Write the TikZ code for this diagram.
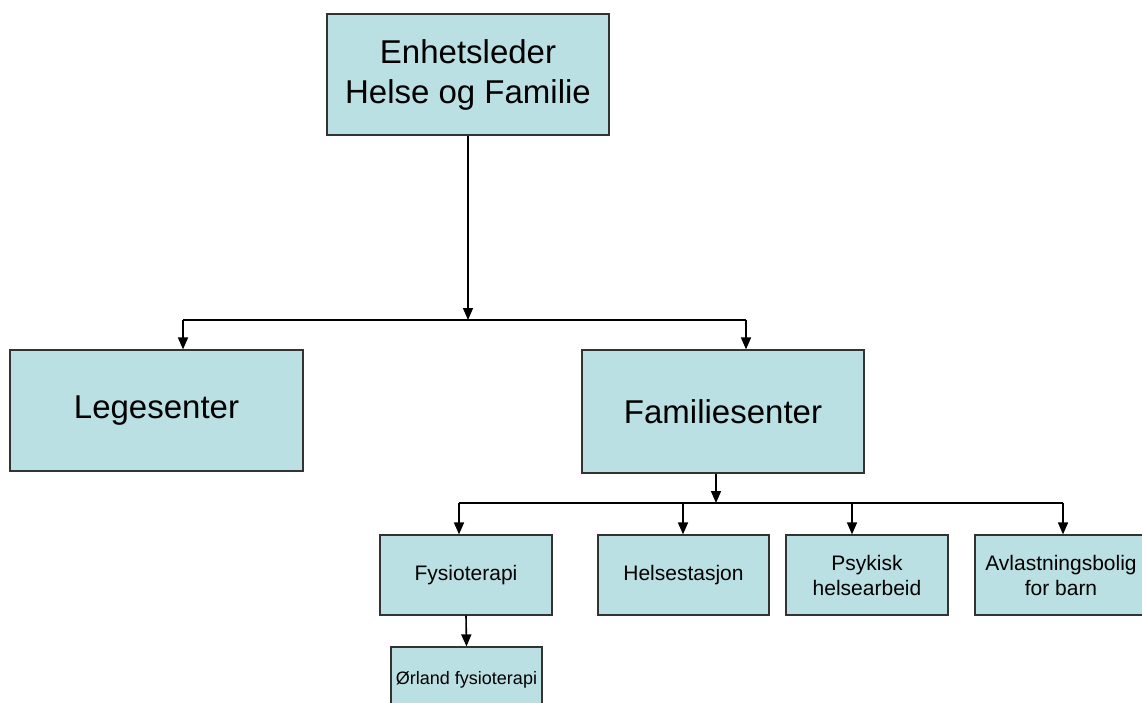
\documentclass[tikz,border=0pt]{standalone}
\usepackage{fontspec}
\setmainfont{Liberation Sans}
\usetikzlibrary{arrows.meta}
\definecolor{boxfill}{HTML}{BBE0E3}
\begin{document}
\begin{tikzpicture}[x=1pt,y=-1pt]
	    \tikzset{>={Triangle[length=12pt,width=10pt]}}
	    \tikzset{unit/.style={draw=black!80,fill=boxfill,line width=1.2pt,inner sep=0pt,align=center,font=\fontsize{33}{40}\selectfont}}
	    \tikzset{subunit/.style={unit,font=\fontsize{21}{25}\selectfont}}
	    \tikzset{link/.style={line width=1.6pt}}
	    \useasboundingbox (0,0) rectangle (1142,702);
	    \node[unit,minimum width=282pt,minimum height=121pt] (leder) at (468,74.5) {Enhetsleder\\Helse og Familie};
	    \node[unit,minimum width=293pt,minimum height=121pt] (lege) at (156.5,410.5) {Legesenter};
	    \node[unit,minimum width=282pt,minimum height=123pt] (familie) at (723,411.5) {Familiesenter};
	    \node[subunit,minimum width=172pt,minimum height=80pt] (fysio) at (466,575) {Fysioterapi};
	    \node[subunit,minimum width=171pt,minimum height=80pt] (helse) at (683.5,575) {Helsestasjon};
	    \node[subunit,minimum width=162pt,minimum height=80pt] (psyk) at (867,575) {Psykisk\\helsearbeid};
	    \node[subunit,minimum width=172pt,minimum height=80pt] (avl) at (1061,575) {Avlastningsbolig\\for barn};
	    \node[subunit,minimum width=151pt,minimum height=66pt,font=\fontsize{18}{22}\selectfont] (orland) at (466.5,680) {Ørland fysioterapi};
	    \coordinate (top) at (468,320);
	    \coordinate (topL) at (183,320);
	    \coordinate (topR) at (746,320);
	    \draw[link,->] (leder.south) -- (top);
	    \draw[link] (topL) -- (topR);
	    \draw[link,->] (topL) -- (topL |- lege.north);
	    \draw[link,->] (topR) -- (topR |- familie.north);
	    \coordinate (mid) at (716,503);
	    \coordinate (midA) at (459,503);
	    \coordinate (midB) at (683,503);
	    \coordinate (midC) at (852,503);
	    \coordinate (midD) at (1063,503);
	    \draw[link,->] (mid |- familie.south) -- (mid);
	    \draw[link] (midA) -- (midD);
	    \draw[link,->] (midA) -- (midA |- fysio.north);
	    \draw[link,->] (midB) -- (midB |- helse.north);
	    \draw[link,->] (midC) -- (midC |- psyk.north);
	    \draw[link,->] (midD) -- (midD |- avl.north);
	    \draw[link,->] (fysio.south) -- (orland.north);
	\end{tikzpicture}
\end{document}
